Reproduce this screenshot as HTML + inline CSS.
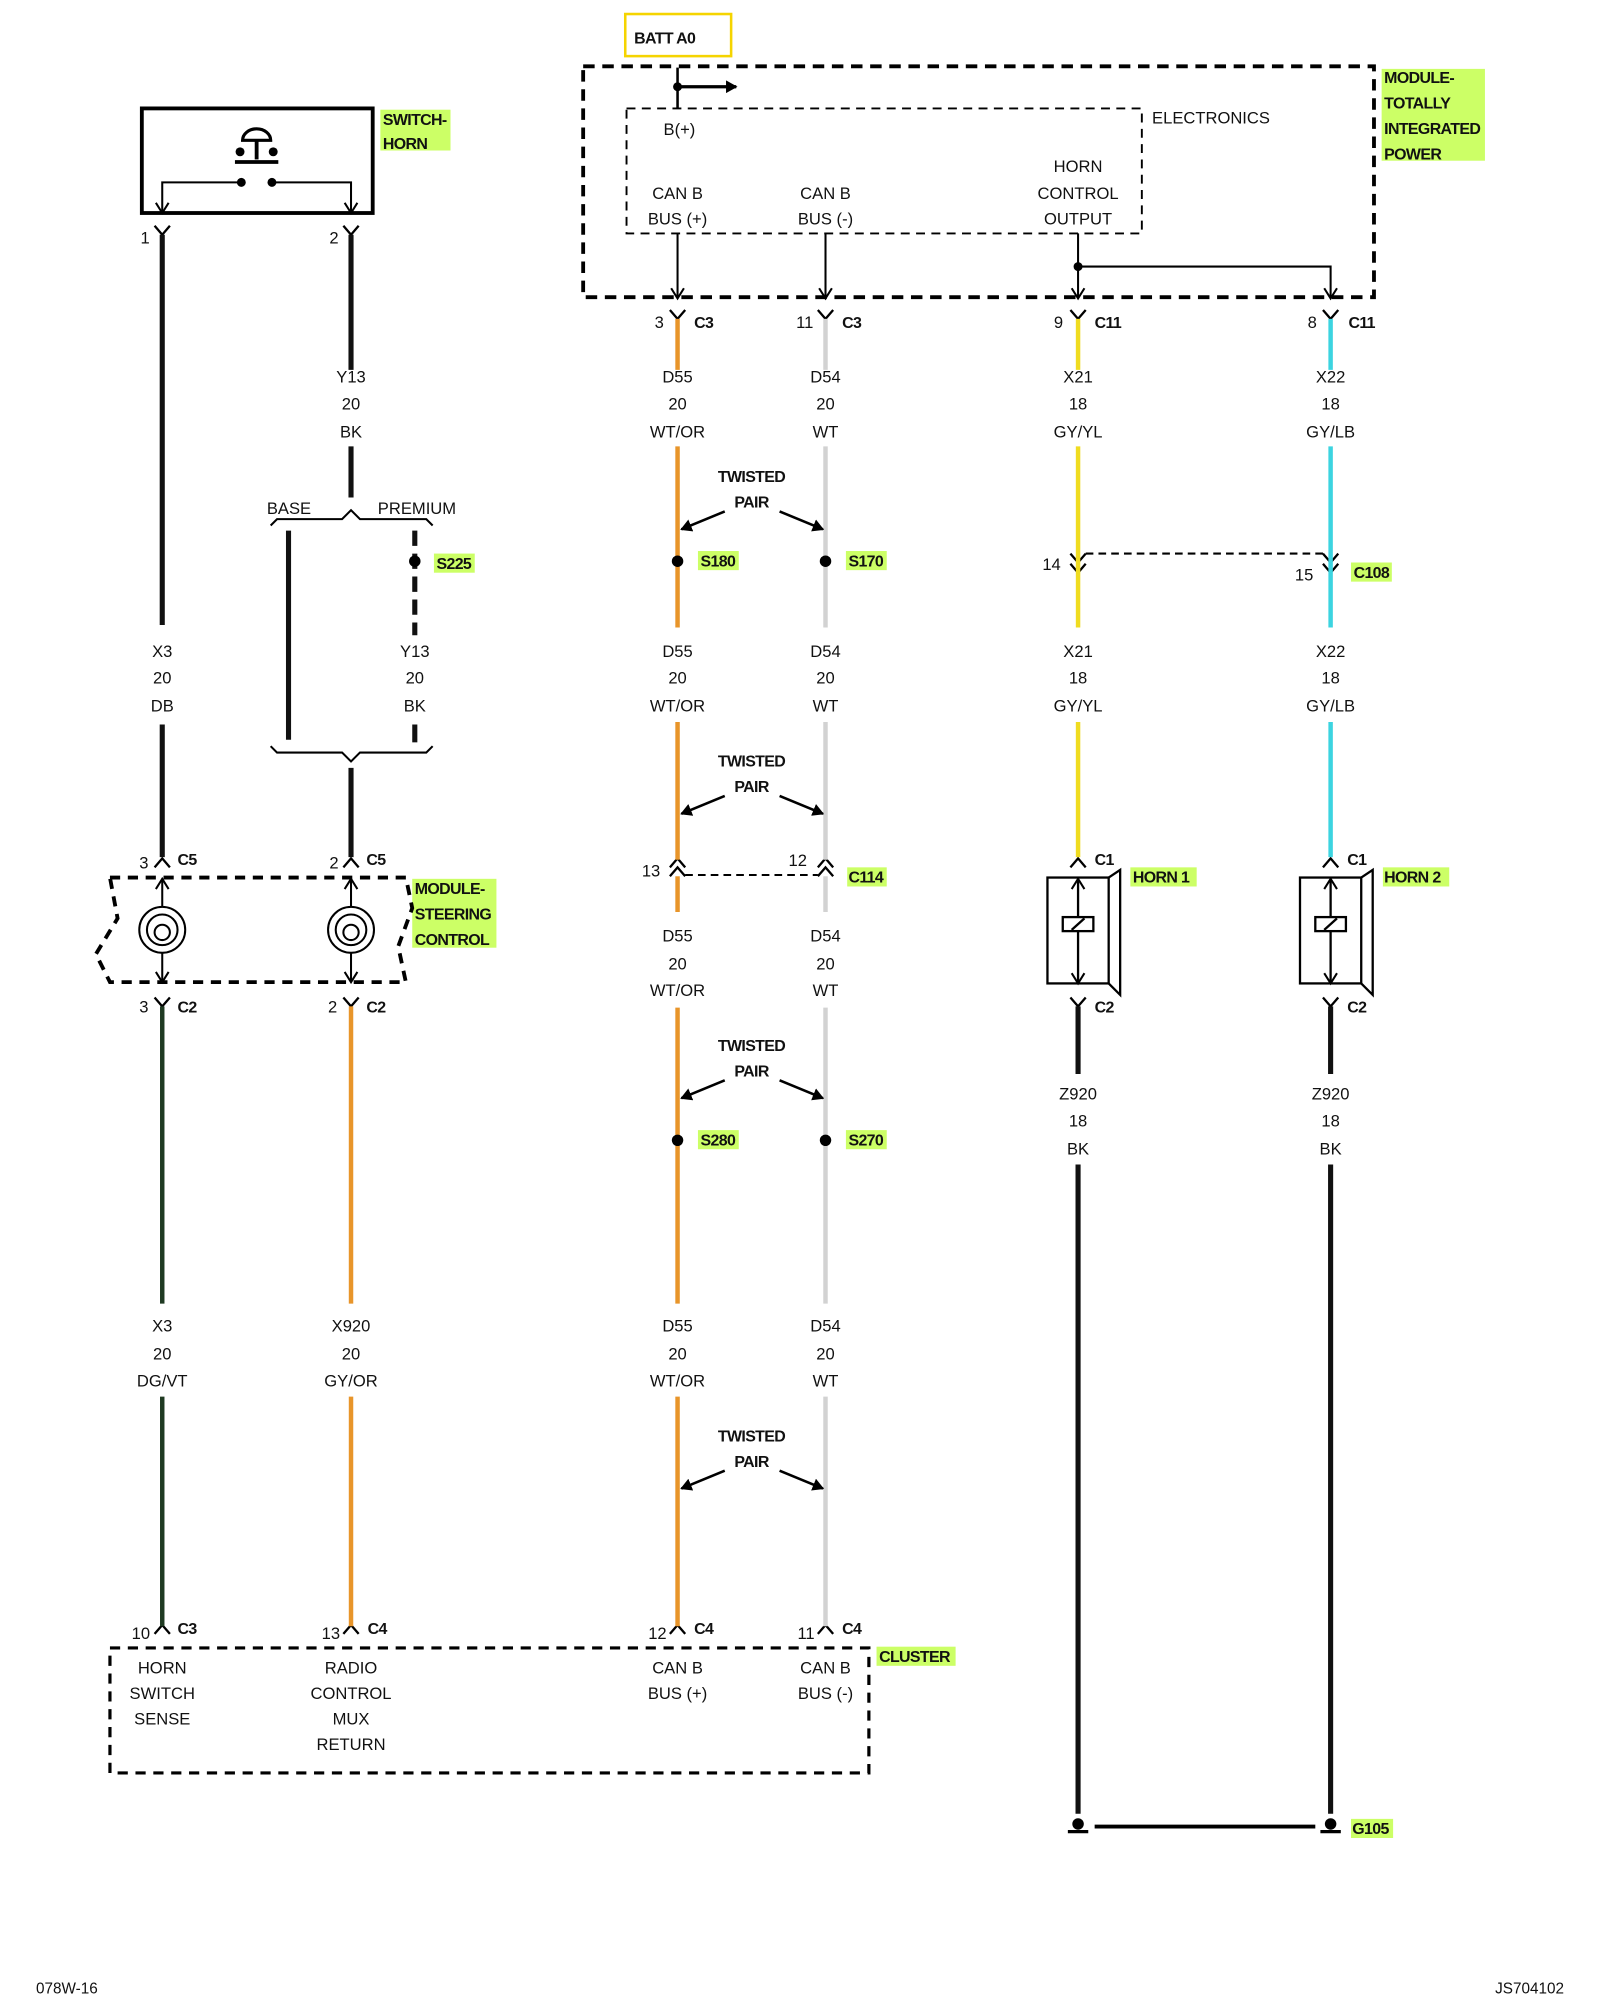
<!DOCTYPE html>
<html><head><meta charset="utf-8"><style>
html,body{margin:0;padding:0;background:#fff}
svg{display:block}
text{font-family:"Liberation Sans",sans-serif;font-size:13px;fill:#111}
.b{font-weight:bold;font-size:12.5px;letter-spacing:-0.5px}
.c{text-anchor:middle}
</style></head><body>
<svg width="1600" height="2000" viewBox="0 0 1254 1568" xmlns="http://www.w3.org/2000/svg">
<defs>
<marker id="ah" markerWidth="10" markerHeight="10" refX="8" refY="5" orient="auto" markerUnits="userSpaceOnUse"><path d="M0,0 L9,5 L0,10 z" fill="#000"/></marker>
<marker id="ov" markerWidth="12" markerHeight="12" refX="10" refY="6" orient="auto" markerUnits="userSpaceOnUse"><path d="M2,1 L10,6 L2,11" fill="none" stroke="#000" stroke-width="1.6"/></marker>
</defs>
<rect width="1254" height="1568" fill="#fff"/>

<!-- green label backgrounds -->
<g fill="#ccff66">
<rect x="298" y="86" width="55" height="32"/>
<rect x="1083" y="54" width="81" height="72"/>
<rect x="340" y="434" width="32" height="15"/>
<rect x="547" y="432" width="32" height="15"/>
<rect x="663" y="432" width="32" height="15"/>
<rect x="1059" y="441" width="32" height="15"/>
<rect x="323" y="689" width="66" height="54"/>
<rect x="664" y="680" width="31" height="15"/>
<rect x="886" y="680" width="52" height="15"/>
<rect x="1084" y="680" width="52" height="15"/>
<rect x="547" y="886" width="32" height="15"/>
<rect x="663" y="886" width="32" height="15"/>
<rect x="687" y="1291" width="62" height="15"/>
<rect x="1059" y="1426" width="33" height="15"/>
</g>

<!-- BATT A0 -->
<rect x="490" y="11" width="83" height="33" fill="none" stroke="#f5d400" stroke-width="2"/>
<text x="497" y="34" class="b">BATT A0</text>

<!-- TIPM -->
<rect x="457" y="52" width="620" height="181" fill="none" stroke="#000" stroke-width="3" stroke-dasharray="9,6"/>
<rect x="491" y="85" width="404" height="98" fill="none" stroke="#000" stroke-width="1.5" stroke-dasharray="7,5"/>
<line x1="531" y1="53" x2="531" y2="85" stroke="#000" stroke-width="2"/>
<circle cx="531" cy="68" r="3.5"/>
<line x1="531" y1="68" x2="577" y2="68" stroke="#000" stroke-width="2.5" marker-end="url(#ah)"/>
<text x="903" y="97">ELECTRONICS</text>
<text x="520" y="106">B(+)</text>
<text x="531" y="156" class="c">CAN B</text><text x="531" y="176" class="c">BUS (+)</text>
<text x="647" y="156" class="c">CAN B</text><text x="647" y="176" class="c">BUS (-)</text>
<text x="845" y="135" class="c">HORN</text><text x="845" y="156" class="c">CONTROL</text><text x="845" y="176" class="c">OUTPUT</text>
<g stroke="#000" stroke-width="1.6" fill="none">
<line x1="531" y1="183" x2="531" y2="234" marker-end="url(#ov)"/>
<line x1="647" y1="183" x2="647" y2="234" marker-end="url(#ov)"/>
<line x1="845" y1="183" x2="845" y2="234" marker-end="url(#ov)"/>
<polyline points="845,209 1043,209 1043,234" marker-end="url(#ov)"/>
</g>
<circle cx="845" cy="209" r="3.5"/>
<text x="1085" y="65" class="b">MODULE-</text>
<text x="1085" y="85" class="b">TOTALLY</text>
<text x="1085" y="105" class="b">INTEGRATED</text>
<text x="1085" y="125" class="b">POWER</text>

<!-- Switch horn -->
<rect x="111" y="85" width="181" height="82" fill="none" stroke="#000" stroke-width="3"/>
<path d="M190,110 A11,9 0 0 1 212,110 Z" fill="none" stroke="#000" stroke-width="2.5"/>
<line x1="201" y1="110" x2="201" y2="125" stroke="#000" stroke-width="3"/>
<line x1="184" y1="127" x2="218" y2="127" stroke="#000" stroke-width="3"/>
<circle cx="188" cy="119" r="3.5"/><circle cx="214" cy="119" r="3.5"/>
<circle cx="189" cy="143" r="3.5"/><circle cx="213" cy="143" r="3.5"/>
<g stroke="#000" stroke-width="1.6" fill="none">
<polyline points="189,143 127,143 127,167" marker-end="url(#ov)"/>
<polyline points="213,143 275,143 275,167" marker-end="url(#ov)"/>
</g>
<text x="300" y="98" class="b">SWITCH-</text>
<text x="300" y="117" class="b">HORN</text>

<!-- connector Y shapes (top female) -->
<g stroke="#000" stroke-width="1.8" fill="none">
<path d="M121,177 L127,184 L133,177"/><path d="M269,177 L275,184 L281,177"/>
<path d="M525,243 L531,250 L537,243"/><path d="M641,243 L647,250 L653,243"/>
<path d="M839,243 L845,250 L851,243"/><path d="M1037,243 L1043,250 L1049,243"/>
<path d="M121,782 L127,789 L133,782"/><path d="M269,782 L275,789 L281,782"/>
<path d="M839,782 L845,789 L851,782"/><path d="M1037,782 L1043,789 L1049,782"/>
<!-- caret ^ -->
<path d="M121,680 L127,673 L133,680"/><path d="M269,680 L275,673 L281,680"/>
<path d="M839,680 L845,673 L851,680"/><path d="M1037,680 L1043,673 L1049,680"/>
<path d="M121,1281 L127,1274 L133,1281"/><path d="M269,1281 L275,1274 L281,1281"/>
<path d="M525,1281 L531,1274 L537,1281"/><path d="M641,1281 L647,1274 L653,1281"/>
<!-- double chevrons -->
<path d="M839,434 L845,441 L851,434"/><path d="M839,442 L845,449 L851,442"/>
<path d="M1037,434 L1043,441 L1049,434"/><path d="M1037,442 L1043,449 L1049,442"/>
<path d="M525,680 L531,673 L537,680"/><path d="M525,687 L531,680 L537,687"/>
<path d="M641,680 L647,673 L653,680"/><path d="M641,687 L647,680 L653,687"/>
</g>

<!-- pin labels -->
<text x="110" y="191">1</text><text x="258" y="191">2</text>
<text x="513" y="257">3</text><text x="544" y="257" class="b">C3</text>
<text x="624" y="257">11</text><text x="660" y="257" class="b">C3</text>
<text x="826" y="257">9</text><text x="858" y="257" class="b">C11</text>
<text x="1025" y="257">8</text><text x="1057" y="257" class="b">C11</text>
<text x="817" y="447">14</text>
<text x="1015" y="455">15</text><text x="1061" y="453" class="b">C108</text>
<text x="109" y="681">3</text><text x="139" y="678" class="b">C5</text>
<text x="258" y="681">2</text><text x="287" y="678" class="b">C5</text>
<text x="503" y="687">13</text><text x="618" y="679">12</text><text x="665" y="692" class="b">C114</text>
<text x="858" y="678" class="b">C1</text><text x="1056" y="678" class="b">C1</text>
<text x="888" y="692" class="b">HORN 1</text><text x="1085" y="692" class="b">HORN 2</text>
<text x="109" y="794">3</text><text x="139" y="794" class="b">C2</text>
<text x="257" y="794">2</text><text x="287" y="794" class="b">C2</text>
<text x="858" y="794" class="b">C2</text><text x="1056" y="794" class="b">C2</text>
<text x="103" y="1285">10</text><text x="139" y="1281" class="b">C3</text>
<text x="252" y="1285">13</text><text x="288" y="1281" class="b">C4</text>
<text x="508" y="1285">12</text><text x="544" y="1281" class="b">C4</text>
<text x="625" y="1285">11</text><text x="660" y="1281" class="b">C4</text>

<!-- wires -->
<g stroke-linecap="butt" fill="none">
<g stroke="#111" stroke-width="4">
<line x1="127" y1="184" x2="127" y2="490"/>
<line x1="127" y1="568" x2="127" y2="672"/>
<line x1="275" y1="184" x2="275" y2="290"/>
<line x1="275" y1="350" x2="275" y2="390"/>
<line x1="226" y1="416" x2="226" y2="580"/>
<line x1="325" y1="416" x2="325" y2="498"/>
<line x1="325" y1="568" x2="325" y2="580"/>
<line x1="275" y1="602" x2="275" y2="672"/>
<line x1="845" y1="789" x2="845" y2="842"/>
<line x1="1043" y1="789" x2="1043" y2="842"/>
<line x1="845" y1="913" x2="845" y2="1422"/>
<line x1="1043" y1="913" x2="1043" y2="1422"/>
</g>
<line x1="325" y1="416" x2="325" y2="580" stroke="#fff" stroke-width="5" stroke-dasharray="0,0"/>
<line x1="325" y1="416" x2="325" y2="498" stroke="#111" stroke-width="4" stroke-dasharray="12,6"/>
<line x1="325" y1="568" x2="325" y2="582" stroke="#111" stroke-width="4"/>
<g stroke="#1f3a22" stroke-width="3.5">
<line x1="127" y1="789" x2="127" y2="1022"/>
<line x1="127" y1="1095" x2="127" y2="1275"/>
</g>
<g stroke="#e8952a" stroke-width="3.5">
<line x1="275" y1="789" x2="275" y2="1022"/>
<line x1="275" y1="1095" x2="275" y2="1275"/>
<line x1="531" y1="250" x2="531" y2="290"/>
<line x1="531" y1="350" x2="531" y2="492"/>
<line x1="531" y1="566" x2="531" y2="674"/>
<line x1="531" y1="687" x2="531" y2="715"/>
<line x1="531" y1="790" x2="531" y2="1022"/>
<line x1="531" y1="1095" x2="531" y2="1275"/>
</g>
<g stroke="#d2d2d2" stroke-width="3.5">
<line x1="647" y1="250" x2="647" y2="290"/>
<line x1="647" y1="350" x2="647" y2="492"/>
<line x1="647" y1="566" x2="647" y2="674"/>
<line x1="647" y1="687" x2="647" y2="715"/>
<line x1="647" y1="790" x2="647" y2="1022"/>
<line x1="647" y1="1095" x2="647" y2="1275"/>
</g>
<g stroke="#f0dc20" stroke-width="3.5">
<line x1="845" y1="250" x2="845" y2="290"/>
<line x1="845" y1="350" x2="845" y2="492"/>
<line x1="845" y1="566" x2="845" y2="672"/>
</g>
<g stroke="#3cd4e0" stroke-width="3.5">
<line x1="1043" y1="250" x2="1043" y2="290"/>
<line x1="1043" y1="350" x2="1043" y2="492"/>
<line x1="1043" y1="566" x2="1043" y2="672"/>
</g>
</g>

<!-- dashed connector links -->
<g stroke="#000" stroke-width="1.6" stroke-dasharray="6,4" fill="none">
<line x1="851" y1="434" x2="1037" y2="434"/>
<line x1="537" y1="686" x2="641" y2="686"/>
</g>

<!-- splices -->
<circle cx="325" cy="440" r="4.5"/><text x="342" y="446" class="b">S225</text>
<circle cx="531" cy="440" r="4.5"/><text x="549" y="444" class="b">S180</text>
<circle cx="647" cy="440" r="4.5"/><text x="665" y="444" class="b">S170</text>
<circle cx="531" cy="894" r="4.5"/><text x="549" y="898" class="b">S280</text>
<circle cx="647" cy="894" r="4.5"/><text x="665" y="898" class="b">S270</text>

<!-- BASE / PREMIUM braces -->
<text x="209" y="403">BASE</text><text x="296" y="403">PREMIUM</text>
<polyline points="212,412 217,407 268,407 275,400 282,407 334,407 339,412" fill="none" stroke="#000" stroke-width="1.6"/>
<polyline points="212,585 217,590 268,590 275,597 282,590 334,590 339,585" fill="none" stroke="#000" stroke-width="1.6"/>

<!-- wire labels -->
<g class="c">
<text x="275" y="300" class="c">Y13</text><text x="275" y="321" class="c">20</text><text x="275" y="343" class="c">BK</text>
<text x="531" y="300" class="c">D55</text><text x="531" y="321" class="c">20</text><text x="531" y="343" class="c">WT/OR</text>
<text x="647" y="300" class="c">D54</text><text x="647" y="321" class="c">20</text><text x="647" y="343" class="c">WT</text>
<text x="845" y="300" class="c">X21</text><text x="845" y="321" class="c">18</text><text x="845" y="343" class="c">GY/YL</text>
<text x="1043" y="300" class="c">X22</text><text x="1043" y="321" class="c">18</text><text x="1043" y="343" class="c">GY/LB</text>

<text x="127" y="515" class="c">X3</text><text x="127" y="536" class="c">20</text><text x="127" y="558" class="c">DB</text>
<text x="325" y="515" class="c">Y13</text><text x="325" y="536" class="c">20</text><text x="325" y="558" class="c">BK</text>
<text x="531" y="515" class="c">D55</text><text x="531" y="536" class="c">20</text><text x="531" y="558" class="c">WT/OR</text>
<text x="647" y="515" class="c">D54</text><text x="647" y="536" class="c">20</text><text x="647" y="558" class="c">WT</text>
<text x="845" y="515" class="c">X21</text><text x="845" y="536" class="c">18</text><text x="845" y="558" class="c">GY/YL</text>
<text x="1043" y="515" class="c">X22</text><text x="1043" y="536" class="c">18</text><text x="1043" y="558" class="c">GY/LB</text>

<text x="531" y="738" class="c">D55</text><text x="531" y="760" class="c">20</text><text x="531" y="781" class="c">WT/OR</text>
<text x="647" y="738" class="c">D54</text><text x="647" y="760" class="c">20</text><text x="647" y="781" class="c">WT</text>

<text x="845" y="862" class="c">Z920</text><text x="845" y="883" class="c">18</text><text x="845" y="905" class="c">BK</text>
<text x="1043" y="862" class="c">Z920</text><text x="1043" y="883" class="c">18</text><text x="1043" y="905" class="c">BK</text>

<text x="127" y="1044" class="c">X3</text><text x="127" y="1066" class="c">20</text><text x="127" y="1087" class="c">DG/VT</text>
<text x="275" y="1044" class="c">X920</text><text x="275" y="1066" class="c">20</text><text x="275" y="1087" class="c">GY/OR</text>
<text x="531" y="1044" class="c">D55</text><text x="531" y="1066" class="c">20</text><text x="531" y="1087" class="c">WT/OR</text>
<text x="647" y="1044" class="c">D54</text><text x="647" y="1066" class="c">20</text><text x="647" y="1087" class="c">WT</text>
</g>

<!-- twisted pair callouts -->
<g>
<text x="589" y="378" class="b c">TWISTED</text><text x="589" y="398" class="b c">PAIR</text>
<line x1="568" y1="401" x2="534" y2="415" stroke="#000" stroke-width="2" marker-end="url(#ah)"/>
<line x1="611" y1="401" x2="645" y2="415" stroke="#000" stroke-width="2" marker-end="url(#ah)"/>
<text x="589" y="601" class="b c">TWISTED</text><text x="589" y="621" class="b c">PAIR</text>
<line x1="568" y1="624" x2="534" y2="638" stroke="#000" stroke-width="2" marker-end="url(#ah)"/>
<line x1="611" y1="624" x2="645" y2="638" stroke="#000" stroke-width="2" marker-end="url(#ah)"/>
<text x="589" y="824" class="b c">TWISTED</text><text x="589" y="844" class="b c">PAIR</text>
<line x1="568" y1="847" x2="534" y2="861" stroke="#000" stroke-width="2" marker-end="url(#ah)"/>
<line x1="611" y1="847" x2="645" y2="861" stroke="#000" stroke-width="2" marker-end="url(#ah)"/>
<text x="589" y="1130" class="b c">TWISTED</text><text x="589" y="1150" class="b c">PAIR</text>
<line x1="568" y1="1153" x2="534" y2="1167" stroke="#000" stroke-width="2" marker-end="url(#ah)"/>
<line x1="611" y1="1153" x2="645" y2="1167" stroke="#000" stroke-width="2" marker-end="url(#ah)"/>
</g>

<!-- steering control module -->
<polygon points="86,688 318,688 323,712 312,742 318,770 86,770 75,748 92,720" fill="none" stroke="#000" stroke-width="3" stroke-dasharray="8,6"/>
<g fill="none" stroke="#000" stroke-width="1.6">
<circle cx="127" cy="729" r="18"/><circle cx="127" cy="729" r="12"/><circle cx="127" cy="731" r="6"/>
<circle cx="275" cy="729" r="18"/><circle cx="275" cy="729" r="12"/><circle cx="275" cy="731" r="6"/>
<line x1="127" y1="711" x2="127" y2="689" marker-end="url(#ov)"/>
<line x1="127" y1="747" x2="127" y2="770" marker-end="url(#ov)"/>
<line x1="275" y1="711" x2="275" y2="689" marker-end="url(#ov)"/>
<line x1="275" y1="747" x2="275" y2="770" marker-end="url(#ov)"/>
</g>
<text x="325" y="701" class="b">MODULE-</text>
<text x="325" y="721" class="b">STEERING</text>
<text x="325" y="741" class="b">CONTROL</text>

<!-- horns -->
<g fill="none" stroke="#000" stroke-width="1.8">
<rect x="821" y="688" width="48" height="83"/>
<polyline points="869,688 878,682 878,780 869,771"/>
<rect x="833" y="719" width="24" height="11"/>
<line x1="840" y1="729" x2="850" y2="720"/>
<line x1="845" y1="719" x2="845" y2="689" marker-end="url(#ov)"/>
<line x1="845" y1="730" x2="845" y2="771" marker-end="url(#ov)"/>
<rect x="1019" y="688" width="48" height="83"/>
<polyline points="1067,688 1076,682 1076,780 1067,771"/>
<rect x="1031" y="719" width="24" height="11"/>
<line x1="1038" y1="729" x2="1048" y2="720"/>
<line x1="1043" y1="719" x2="1043" y2="689" marker-end="url(#ov)"/>
<line x1="1043" y1="730" x2="1043" y2="771" marker-end="url(#ov)"/>
</g>

<!-- ground -->
<circle cx="845" cy="1430" r="4.5"/><line x1="837" y1="1436" x2="853" y2="1436" stroke="#000" stroke-width="2.5"/>
<circle cx="1043" cy="1430" r="4.5"/><line x1="1035" y1="1436" x2="1051" y2="1436" stroke="#000" stroke-width="2.5"/>
<line x1="858" y1="1432" x2="1031" y2="1432" stroke="#000" stroke-width="3"/>
<text x="1060" y="1438" class="b">G105</text>

<!-- cluster -->
<rect x="86" y="1292" width="595" height="98" fill="none" stroke="#000" stroke-width="2.5" stroke-dasharray="8,6"/>
<text x="689" y="1303" class="b">CLUSTER</text>
<text x="127" y="1312" class="c">HORN</text><text x="127" y="1332" class="c">SWITCH</text><text x="127" y="1352" class="c">SENSE</text>
<text x="275" y="1312" class="c">RADIO</text><text x="275" y="1332" class="c">CONTROL</text><text x="275" y="1352" class="c">MUX</text><text x="275" y="1372" class="c">RETURN</text>
<text x="531" y="1312" class="c">CAN B</text><text x="531" y="1332" class="c">BUS (+)</text>
<text x="647" y="1312" class="c">CAN B</text><text x="647" y="1332" class="c">BUS (-)</text>

<text x="28" y="1563" style="font-size:12px">078W-16</text>
<text x="1226" y="1563" style="font-size:12px;text-anchor:end">JS704102</text>
</svg>
</body></html>
